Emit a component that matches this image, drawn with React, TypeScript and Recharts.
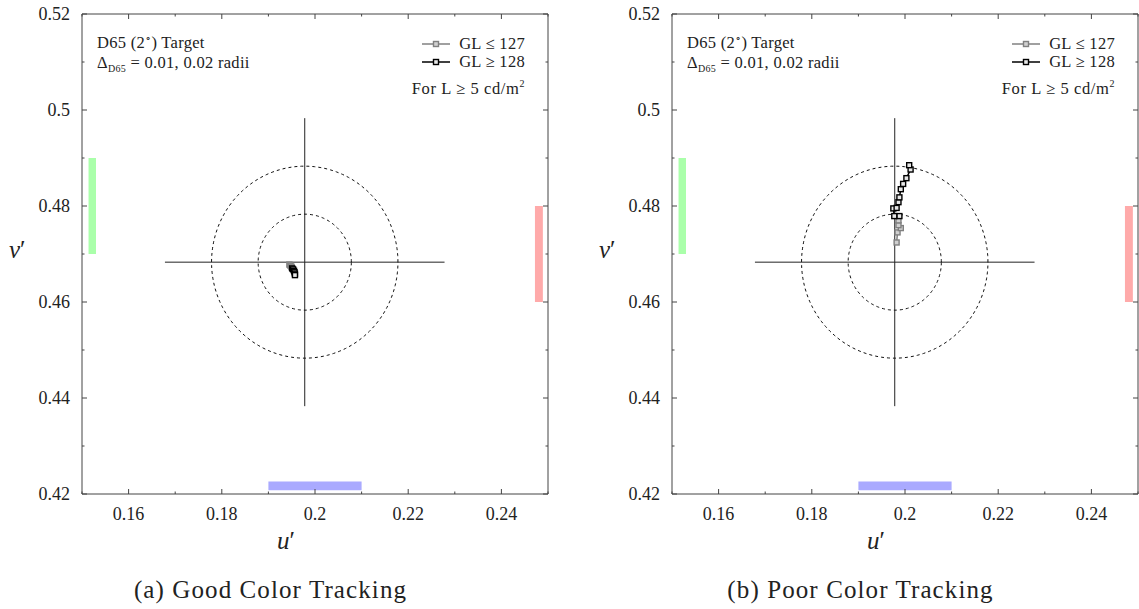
import React from "react";
import { ComposedChart, Line, XAxis, YAxis, ReferenceLine, ReferenceArea } from "recharts";

// ---- reference geometry ----
const D65_U = 0.1978;
const D65_V = 0.4683;
const CROSS_HALF = 0.03;
const RADII = [0.01, 0.02];

// ---- axes ----
const X_DOMAIN = [0.15, 0.25];
const Y_DOMAIN = [0.42, 0.52];
const xMajorTicks = [0.16, 0.18, 0.2, 0.22, 0.24];
const xMinorTicks = [0.15, 0.17, 0.19, 0.21, 0.23, 0.25];
const yMajorTicks = [0.42, 0.44, 0.46, 0.48, 0.5, 0.52];
const yMinorTicks = [0.43, 0.45, 0.47, 0.49, 0.51];
const xTickLabels = ["0.16", "0.18", "0.2", "0.22", "0.24"];
const yTickLabels = ["0.42", "0.44", "0.46", "0.48", "0.5", "0.52"];

// ---- colour-direction bars (u1,u2,v1,v2) ----
const greenBar = [0.1514, 0.153, 0.47, 0.49];
const redBar = [0.2472, 0.2489, 0.46, 0.48];
const blueBar = [0.19, 0.21, 0.4208, 0.4226];

// ---- measured data ----
const goodGray = [
  { u: 0.1945, v: 0.4678 },
  { u: 0.1947, v: 0.4676 },
  { u: 0.1949, v: 0.4674 },
  { u: 0.195, v: 0.4672 },
];
const goodBlack = [
  { u: 0.1951, v: 0.467 },
  { u: 0.1953, v: 0.4668 },
  { u: 0.1955, v: 0.4665 },
  { u: 0.1956, v: 0.4662 },
  { u: 0.1957, v: 0.4659 },
  { u: 0.1957, v: 0.4656 },
];
const poorGray = [
  { u: 0.1982, v: 0.4724 },
  { u: 0.1984, v: 0.4745 },
  { u: 0.1991, v: 0.4754 },
  { u: 0.1986, v: 0.476 },
  { u: 0.1986, v: 0.477 },
];
const poorBlack = [
  { u: 0.1988, v: 0.4779 },
  { u: 0.1977, v: 0.4779 },
  { u: 0.1975, v: 0.4795 },
  { u: 0.1982, v: 0.4796 },
  { u: 0.1986, v: 0.4808 },
  { u: 0.1988, v: 0.4818 },
  { u: 0.1991, v: 0.4835 },
  { u: 0.1996, v: 0.4846 },
  { u: 0.2003, v: 0.4858 },
  { u: 0.2012, v: 0.4876 },
  { u: 0.2009, v: 0.4885 },
];

const seriesStyles = [
  { name: "GL \u2264 127", stroke: "#808080", fill: "#d0d0d0" },
  { name: "GL \u2265 128", stroke: "#000000", fill: "#e8e8e8" },
];

// dashed radius circles in u'v' data space
const circleData = RADII.map((r) => {
  const pts = [];
  const N = 180;
  for (let i = 0; i <= N; i++) {
    const t = (i / N) * Math.PI * 2;
    pts.push({ u: D65_U + r * Math.cos(t), v: D65_V + r * Math.sin(t) });
  }
  return pts;
});

const FONT = "'Liberation Serif', 'Times New Roman', serif";
const AXIS = "#444";

const isMajor = (v: number) => Math.round(v * 100) % 2 === 0;
const allX = [...xMajorTicks, ...xMinorTicks].sort((a, b) => a - b);
const allY = [...yMajorTicks, ...yMinorTicks].sort((a, b) => a - b);

const XTick = (props: any) => {
  const { x, y, payload, top } = props;
  const v = payload.value;
  const major = isMajor(v);
  const len = major ? 5 : 2.5;
  const dir = top ? 1 : -1;
  const idx = xMajorTicks.findIndex((t) => Math.abs(t - v) < 1e-9);
  return (
    <g>
      <line x1={x} x2={x} y1={y} y2={y + dir * len} stroke={AXIS} strokeWidth={1} />
      {!top && idx >= 0 && (
        <text x={x} y={y + 26} textAnchor="middle" fontSize={18} fontFamily={FONT} fill="#222">
          {xTickLabels[idx]}
        </text>
      )}
    </g>
  );
};

const YTick = (props: any) => {
  const { x, y, payload, right } = props;
  const v = payload.value;
  const major = isMajor(v);
  const len = major ? 5 : 2.5;
  const dir = right ? -1 : 1;
  const idx = yMajorTicks.findIndex((t) => Math.abs(t - v) < 1e-9);
  return (
    <g>
      <line x1={x} x2={x + dir * len} y1={y} y2={y} stroke={AXIS} strokeWidth={1} />
      {!right && idx >= 0 && (
        <text x={x - 12} y={y + 6} textAnchor="end" fontSize={18} fontFamily={FONT} fill="#222">
          {yTickLabels[idx]}
        </text>
      )}
    </g>
  );
};

const squareDot = (stroke: string, fill: string) => (p: any) => (
  <rect
    key={`d-${p.index}`}
    x={p.cx - 2.5}
    y={p.cy - 2.5}
    width={5}
    height={5}
    fill={fill}
    stroke={stroke}
    strokeWidth={1.4}
  />
);

const PANEL_W = 560;
const PANEL_H = 609;

const Panel = ({ left, gray, black, caption }: any) => {
  const dataSets = [gray, black];
  return (
    <div style={{ position: "absolute", left, top: 0, width: PANEL_W, height: PANEL_H, fontFamily: FONT, color: "#222" }}>
      <ComposedChart width={PANEL_W} height={PANEL_H} margin={{ top: 13, right: 11, bottom: 114, left: 0 }}>
        <XAxis
          xAxisId={0}
          type="number"
          dataKey="u"
          domain={X_DOMAIN}
          ticks={allX}
          interval={0}
          allowDataOverflow
          height={1}
          tickSize={0}
          tickMargin={0}
          tick={<XTick />}
          axisLine={{ stroke: AXIS }}
        />
        <XAxis
          xAxisId="t"
          orientation="top"
          type="number"
          dataKey="u"
          domain={X_DOMAIN}
          ticks={allX}
          interval={0}
          allowDataOverflow
          height={1}
          tickSize={0}
          tickMargin={0}
          tick={<XTick top />}
          axisLine={{ stroke: AXIS }}
        />
        <YAxis
          yAxisId={0}
          type="number"
          dataKey="v"
          domain={Y_DOMAIN}
          ticks={allY}
          interval={0}
          allowDataOverflow
          width={82}
          tickSize={0}
          tickMargin={0}
          tick={<YTick />}
          axisLine={{ stroke: AXIS }}
        />
        <YAxis
          yAxisId="r"
          orientation="right"
          type="number"
          dataKey="v"
          domain={Y_DOMAIN}
          ticks={allY}
          interval={0}
          allowDataOverflow
          width={1}
          tickSize={0}
          tickMargin={0}
          tick={<YTick right />}
          axisLine={{ stroke: AXIS }}
        />
        <ReferenceArea x1={greenBar[0]} x2={greenBar[1]} y1={greenBar[2]} y2={greenBar[3]} fill="#aaffaa" fillOpacity={1} stroke="none" />
        <ReferenceArea x1={redBar[0]} x2={redBar[1]} y1={redBar[2]} y2={redBar[3]} fill="#ffaaaa" fillOpacity={1} stroke="none" />
        <ReferenceArea x1={blueBar[0]} x2={blueBar[1]} y1={blueBar[2]} y2={blueBar[3]} fill="#aaaaff" fillOpacity={1} stroke="none" />
        <ReferenceLine
          segment={[
            { x: D65_U - CROSS_HALF, y: D65_V },
            { x: D65_U + CROSS_HALF, y: D65_V },
          ]}
          stroke="#222"
          strokeWidth={1}
        />
        <ReferenceLine
          segment={[
            { x: D65_U, y: D65_V - CROSS_HALF },
            { x: D65_U, y: D65_V + CROSS_HALF },
          ]}
          stroke="#222"
          strokeWidth={1}
        />
        {circleData.map((pts, i) => (
          <Line
            key={`c${i}`}
            data={pts}
            dataKey="v"
            stroke="#111"
            strokeWidth={1}
            strokeDasharray="3 3"
            dot={false}
            activeDot={false}
            isAnimationActive={false}
            legendType="none"
          />
        ))}
        {dataSets.map((d, i) => (
          <Line
            key={`s${i}`}
            name={seriesStyles[i].name}
            data={d}
            dataKey="v"
            stroke={seriesStyles[i].stroke}
            strokeWidth={1.5}
            dot={squareDot(seriesStyles[i].stroke, seriesStyles[i].fill)}
            activeDot={false}
            isAnimationActive={false}
          />
        ))}
      </ComposedChart>

      {/* annotations */}
      <div style={{ position: "absolute", left: 97, top: 28, fontSize: 16.5, letterSpacing: 0.3, lineHeight: "20px", whiteSpace: "nowrap" }}>
        <div>
          D65 (2<sup style={{ fontSize: 10 }}>&#8728;</sup>) Target
        </div>
        <div>
          &Delta;<sub style={{ fontSize: 10 }}>D65</sub> = 0.01, 0.02 radii
        </div>
      </div>

      {/* legend */}
      {seriesStyles.map((s, i) => (
        <div
          key={s.name}
          style={{
            position: "absolute",
            right: PANEL_W - 525,
            top: 35 + i * 18,
            height: 18,
            display: "flex",
            alignItems: "center",
            fontSize: 16.5,
            letterSpacing: 0.3,
            whiteSpace: "nowrap",
          }}
        >
          <svg width={30} height={10} style={{ marginRight: 7 }}>
            <line x1={0} x2={28} y1={5} y2={5} stroke={s.stroke} strokeWidth={1.5} />
            <rect x={11.5} y={2.5} width={5} height={5} fill={s.fill} stroke={s.stroke} strokeWidth={1.4} />
          </svg>
          <span>{s.name}</span>
        </div>
      ))}
      <div style={{ position: "absolute", right: PANEL_W - 525, top: 74, fontSize: 16.5, letterSpacing: 0.6, lineHeight: "20px", whiteSpace: "nowrap" }}>
        For L &ge; 5 cd/m<sup style={{ fontSize: 10 }}>2</sup>
      </div>

      {/* axis labels */}
      <div style={{ position: "absolute", left: 9, top: 236, fontSize: 25, fontStyle: "italic" }}>
        v<span style={{ fontStyle: "normal" }}>&prime;</span>
      </div>
      <div style={{ position: "absolute", left: 277, top: 527, fontSize: 25, fontStyle: "italic" }}>
        u<span style={{ fontStyle: "normal" }}>&prime;</span>
      </div>

      {/* caption */}
      <div style={{ position: "absolute", left: 0, width: 541, top: 576, textAlign: "center", fontSize: 25, letterSpacing: 1.1, whiteSpace: "nowrap" }}>
        {caption}
      </div>
    </div>
  );
}

export default function App() {
  return (
    <div style={{ position: "absolute", left: 0, top: 0, width: 1139, height: 609, overflow: "hidden", background: "#fff" }}>
      <Panel left={0} gray={goodGray} black={goodBlack} caption="(a) Good Color Tracking" />
      <Panel left={590} gray={poorGray} black={poorBlack} caption="(b) Poor Color Tracking" />
    </div>
  );
}
